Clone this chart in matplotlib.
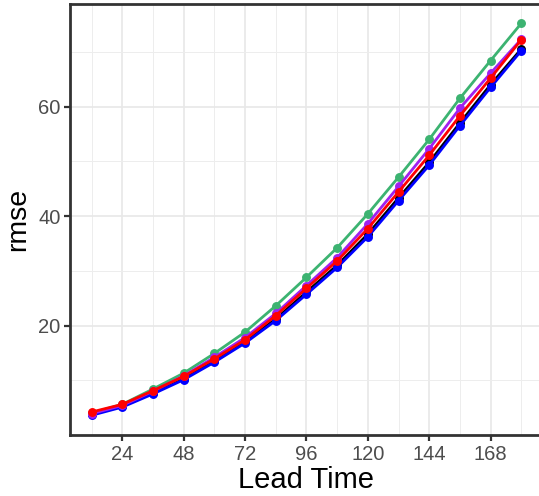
import matplotlib
matplotlib.use("Agg")
import matplotlib.pyplot as plt
from matplotlib.ticker import MultipleLocator, FixedLocator
import numpy as np

plt.rcParams['font.family'] = ['Liberation Sans', 'DejaVu Sans']

lead_time = [12, 24, 36, 48, 60, 72, 84, 96, 108, 120, 132, 144, 156, 168, 180]
rmse_black  = [3.8, 5.3, 7.7, 10.3, 13.5, 17.1, 21.2, 26.1, 31.0, 36.7, 43.3, 49.8, 57.0, 64.0, 70.5]
rmse_blue   = [3.6, 5.1, 7.5, 10.1, 13.3, 16.8, 20.9, 25.7, 30.6, 36.2, 42.8, 49.3, 56.5, 63.5, 70.2]
rmse_green  = [4.0, 5.6, 8.4, 11.3, 14.9, 18.8, 23.6, 28.8, 34.2, 40.4, 47.1, 54.0, 61.5, 68.4, 75.2]
rmse_purple = [3.9, 5.4, 8.0, 10.8, 14.2, 17.8, 22.2, 27.3, 32.4, 38.6, 45.4, 52.3, 59.7, 66.1, 72.3]
rmse_red    = [4.2, 5.6, 8.1, 10.7, 13.9, 17.4, 21.8, 26.8, 31.8, 37.7, 44.4, 51.1, 58.3, 65.2, 72.2]

series = [
    (rmse_black, '#000000'),
    (rmse_blue, '#0000FF'),
    (rmse_green, '#3CB371'),
    (rmse_purple, '#A020F0'),
    (rmse_red, '#FF0000'),
]

W, H = 539, 496
fig = plt.figure(figsize=(W / 100, H / 100), dpi=100)
left_px, right_px = 70.1, 542.8
top_px, bot_px = 3.7, 434.9
ax = fig.add_axes([left_px / W, 1 - bot_px / H, (right_px - left_px) / W, (bot_px - top_px) / H])

for vals, col in series:
    ax.plot(lead_time, vals, color=col, lw=2.0, marker='o', ms=5.4, mec=col, mfc=col, zorder=3)

allv = np.concatenate([np.array(v) for v, _ in series])
xr = max(lead_time) - min(lead_time)
ax.set_xlim(min(lead_time) - 0.05 * xr, max(lead_time) + 0.05 * xr)
yr = allv.max() - allv.min()
ax.set_ylim(allv.min() - 0.05 * yr, allv.max() + 0.05 * yr)

ax.xaxis.set_major_locator(FixedLocator([24, 48, 72, 96, 120, 144, 168]))
ax.xaxis.set_minor_locator(FixedLocator([12, 36, 60, 84, 108, 132, 156, 180]))
ax.yaxis.set_major_locator(MultipleLocator(20))
ax.yaxis.set_minor_locator(FixedLocator([10, 30, 50, 70]))

ax.grid(which='major', color='#E8E8E8', lw=1.2, zorder=0)
ax.grid(which='minor', color='#EDEDED', lw=0.7, zorder=0)
ax.set_axisbelow(True)

for s in ax.spines.values():
    s.set_color('#333333')
    s.set_linewidth(2.0)

ax.tick_params(which='major', length=4, width=1.6, color='#333333', labelsize=14.5,
               labelcolor='#4D4D4D', pad=3)
ax.tick_params(which='minor', length=0)

ax.set_xlabel('Lead Time', fontsize=21, color='black', labelpad=2)
ax.set_ylabel('rmse', fontsize=20.5, color='black', labelpad=5)

fig.savefig('out.png', dpi=100)
